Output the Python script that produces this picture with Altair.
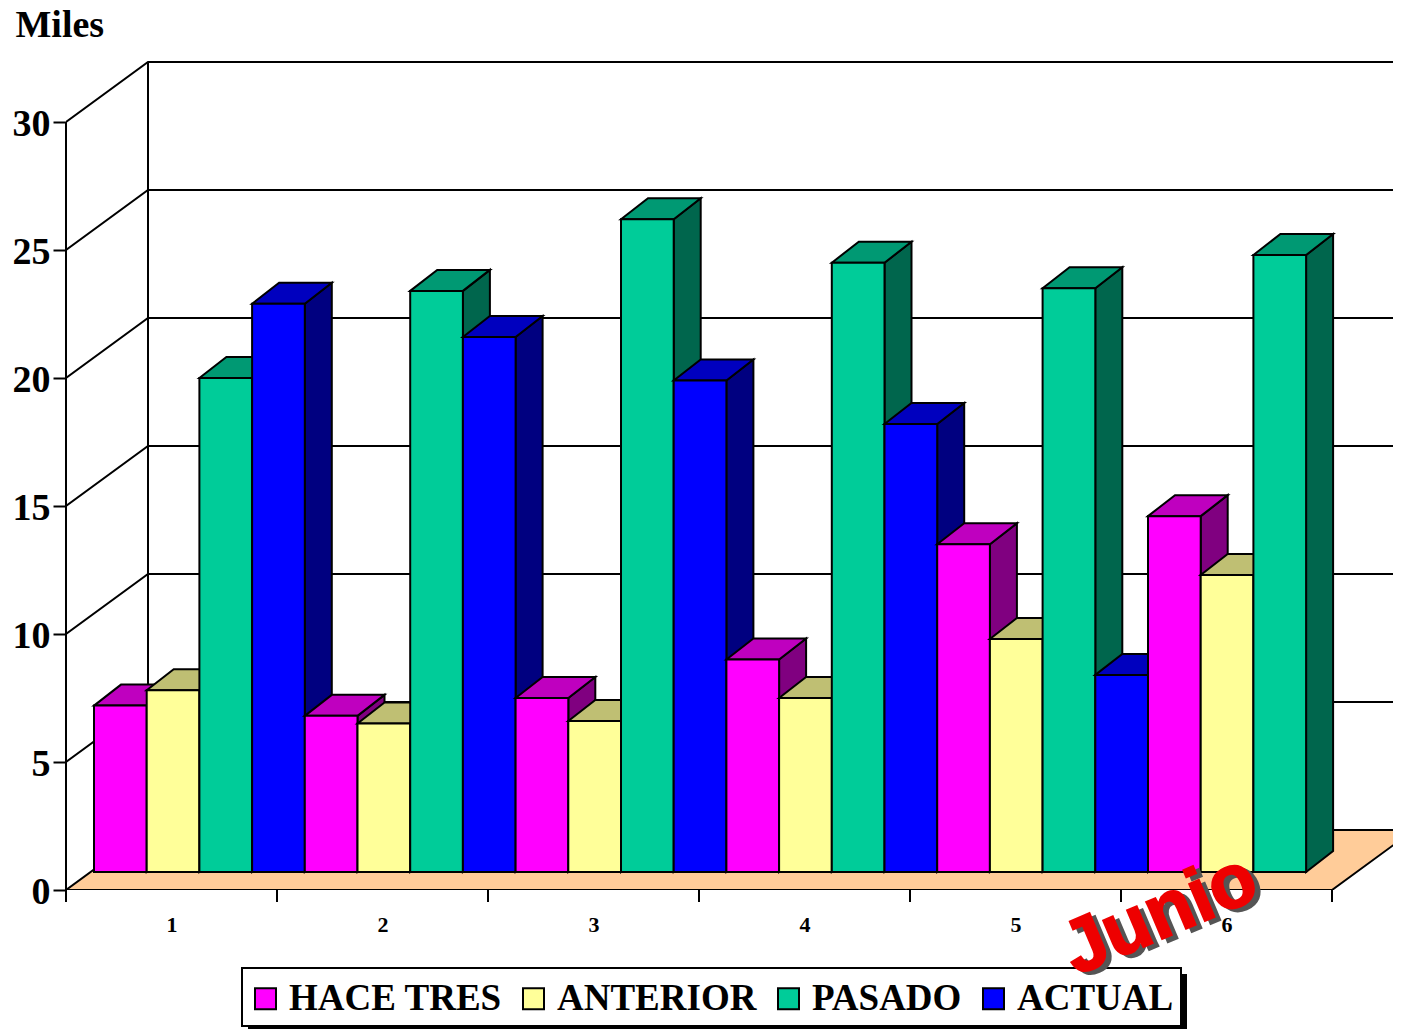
import altair as alt
import pandas as pd

series = ["HACE TRES", "ANTERIOR", "PASADO", "ACTUAL"]
hace_tres = [6.5, 6.1, 6.8, 8.3, 12.8, 13.9]
anterior = [7.1, 5.8, 5.9, 6.8, 9.1, 11.6]
pasado = [19.3, 22.7, 25.5, 23.8, 22.8, 24.1]
actual = [22.2, 20.9, 19.2, 17.5, 7.7, None]
front_colors = ["#FF00FF", "#FFFF99", "#00CC99", "#0000FF"]
top_colors = ["#BF00BF", "#BFBF73", "#009973", "#0000BF"]
side_colors = ["#800080", "#808050", "#00664D", "#000080"]
y_ticks = [0, 5, 10, 15, 20, 25, 30]
categories = [1, 2, 3, 4, 5, 6]

PX_X = 211.0   # pixels per category
PX_Y = 25.6    # pixels per value unit
W, H = 1327, 830
X_MAX = W / PX_X
Y_MAX = H / PX_Y
WALL_DX, WALL_DY = 82 / PX_X, 60 / PX_Y     # full depth of the box
BAR_X0, BAR_BASE = 28 / PX_X, 18 / PX_Y     # front plane of the bars
BAR_DX, BAR_DY = 27 / PX_X, 21 / PX_Y       # depth of a bar
BAR_W = 52.7 / PX_X

x_scale = alt.Scale(domain=[0, X_MAX], range=[0, W], nice=False, zero=False)
y_scale = alt.Scale(domain=[0, Y_MAX], range=[H, 0], nice=False, zero=False)

all_values = [hace_tres, anterior, pasado, actual]
rows = []
n = 0
for c in range(len(categories)):
    for s, name in enumerate(series):
        v = all_values[s][c]
        if v is None:
            continue
        l = BAR_X0 + n * BAR_W
        r = l + BAR_W
        b = BAR_BASE
        t = b + v
        # side face
        rows += [dict(id=f"{n}a", face=name + " side", x=r, y=t, y2=b),
                 dict(id=f"{n}a", face=name + " side", x=r + BAR_DX, y=t + BAR_DY, y2=b + BAR_DY)]
        # top face
        rows += [dict(id=f"{n}b", face=name + " top", x=l, y=t, y2=t),
                 dict(id=f"{n}b", face=name + " top", x=l + BAR_DX, y=t + BAR_DY, y2=t),
                 dict(id=f"{n}b", face=name + " top", x=r, y=t + BAR_DY, y2=t),
                 dict(id=f"{n}b", face=name + " top", x=r + BAR_DX, y=t + BAR_DY, y2=t + BAR_DY)]
        # front face
        rows += [dict(id=f"{n}c", face=name, x=l, y=t, y2=b),
                 dict(id=f"{n}c", face=name, x=r, y=t, y2=b)]
        n += 1
faces_df = pd.DataFrame(rows)

face_domain = series + [s + " top" for s in series] + [s + " side" for s in series]
face_range = front_colors + top_colors + side_colors

SERIF = "Liberation Serif"
LW = 2

# y axis (ticks, labels, title)
y_axis = alt.Axis(
    values=y_ticks, domain=False, grid=False, tickSize=13, tickWidth=LW, tickColor="black",
    labelFont=SERIF, labelFontWeight="bold", labelFontSize=38, labelColor="black", labelPadding=3, labelOffset=2,
    title="Miles", titleFont=SERIF, titleFontWeight="bold", titleFontSize=38, titleColor="black",
    titleAngle=0, titleAlign="left", titleBaseline="alphabetic", titleX=-51, titleY=-24,
)
# x axis (category labels)
x_axis = alt.Axis(
    values=[c - 0.5 for c in categories], labelExpr="datum.value + 0.5", domain=False, grid=False, ticks=False,
    labelFont=SERIF, labelFontWeight="bold", labelFontSize=22, labelColor="black", labelPadding=24, title=None,
    labelAngle=0,
)
axes = alt.Chart(pd.DataFrame({"x": [0.0], "y": [0.0]})).mark_point(opacity=0).encode(
    x=alt.X("x:Q", scale=x_scale, axis=x_axis),
    y=alt.Y("y:Q", scale=y_scale, axis=y_axis),
)

# walls and grid lines
wall_rows = []
for v in y_ticks[1:]:
    wall_rows += [dict(v=v, x=0, y=v), dict(v=v, x=WALL_DX, y=v + WALL_DY), dict(v=v, x=X_MAX, y=v + WALL_DY)]
walls = alt.Chart(pd.DataFrame(wall_rows)).mark_line(color="black", strokeWidth=LW, clip=True).encode(
    x=alt.X("x:Q", scale=x_scale),
    y=alt.Y("y:Q", scale=y_scale),
    detail="v:N",
)

# vertical lines of the box
vert = pd.DataFrame([dict(x=0, y=0, y2=30), dict(x=WALL_DX, y=WALL_DY, y2=30 + WALL_DY)])
verticals = alt.Chart(vert).mark_rule(color="black", strokeWidth=LW).encode(
    x=alt.X("x:Q", scale=x_scale),
    y=alt.Y("y:Q", scale=y_scale),
    y2="y2:Q",
)

# floor
floor_df = pd.DataFrame([
    dict(x=0, y=0, y2=0),
    dict(x=WALL_DX, y=WALL_DY, y2=0),
    dict(x=6, y=WALL_DY, y2=0),
    dict(x=6 + WALL_DX, y=WALL_DY, y2=WALL_DY),
])
floor = alt.Chart(floor_df).mark_area(fill="#FFCC99", stroke="black", strokeWidth=LW, clip=True).encode(
    x=alt.X("x:Q", scale=x_scale),
    y=alt.Y("y:Q", scale=y_scale),
    y2="y2:Q",
)

# x tick marks
x_ticks = alt.Chart(pd.DataFrame({"x": [0, 1, 2, 3, 4, 5, 6]})).mark_rule(color="black", strokeWidth=LW).encode(
    x=alt.X("x:Q", scale=x_scale),
    y=alt.value(H),
    y2=alt.value(H + 12),
)

# bars
legend = alt.Legend(
    values=series, orient="none", legendX=181, legendY=920, direction="horizontal", columns=4,
    title=None, padding=0, zindex=1,
    labelFont=SERIF, labelFontWeight="bold", labelFontSize=37, labelColor="black", labelOffset=5,
    symbolType="square", symbolSize=441, symbolStrokeColor="black", symbolStrokeWidth=LW,
    columnPadding=13, labelLimit=400,
)
bars = alt.Chart(faces_df).mark_area(stroke="black", strokeWidth=LW, opacity=1).encode(
    x=alt.X("x:Q", scale=x_scale),
    y=alt.Y("y:Q", scale=y_scale),
    y2="y2:Q",
    fill=alt.Fill("face:N", scale=alt.Scale(domain=face_domain, range=face_range), legend=legend),
    detail="id:N",
)

# legend box and its shadow
one = pd.DataFrame({"a": [0]})
shadow = alt.Chart(one).mark_rect(color="black").encode(
    x=alt.value(182), x2=alt.value(1121), y=alt.value(914), y2=alt.value(969),
)
box = alt.Chart(one).mark_rect(fill="white", stroke="black", strokeWidth=LW).encode(
    x=alt.value(176), x2=alt.value(1115), y=alt.value(908), y2=alt.value(966),
)

# word art label
word = pd.DataFrame({"x": [(1160 - 66) / PX_X], "y": [(890 - 915) / PX_Y], "t": ["Junio"]})
def word_layer(color, dx, dy):
    return alt.Chart(word).mark_text(
        font="Liberation Sans", fontWeight="bold", fontSize=76, angle=337, align="center",
        baseline="middle", color=color, stroke=color, strokeWidth=2, dx=dx, dy=dy,
    ).encode(
        x=alt.X("x:Q", scale=x_scale),
        y=alt.Y("y:Q", scale=y_scale),
        text="t:N",
    )

chart = alt.layer(
    axes, walls, floor, verticals, x_ticks, bars, shadow, box,
    word_layer("#555555", 4, 5), word_layer("#EE0000", 0, 0),
).properties(
    width=W, height=H,
    autosize=alt.AutoSizeParams(type="none"),
    padding={"left": 58, "top": 52, "right": 0, "bottom": 139},
    background="white",
).configure_view(stroke=None)

chart.save("out.html", embed_options={"renderer": "svg", "actions": False})
